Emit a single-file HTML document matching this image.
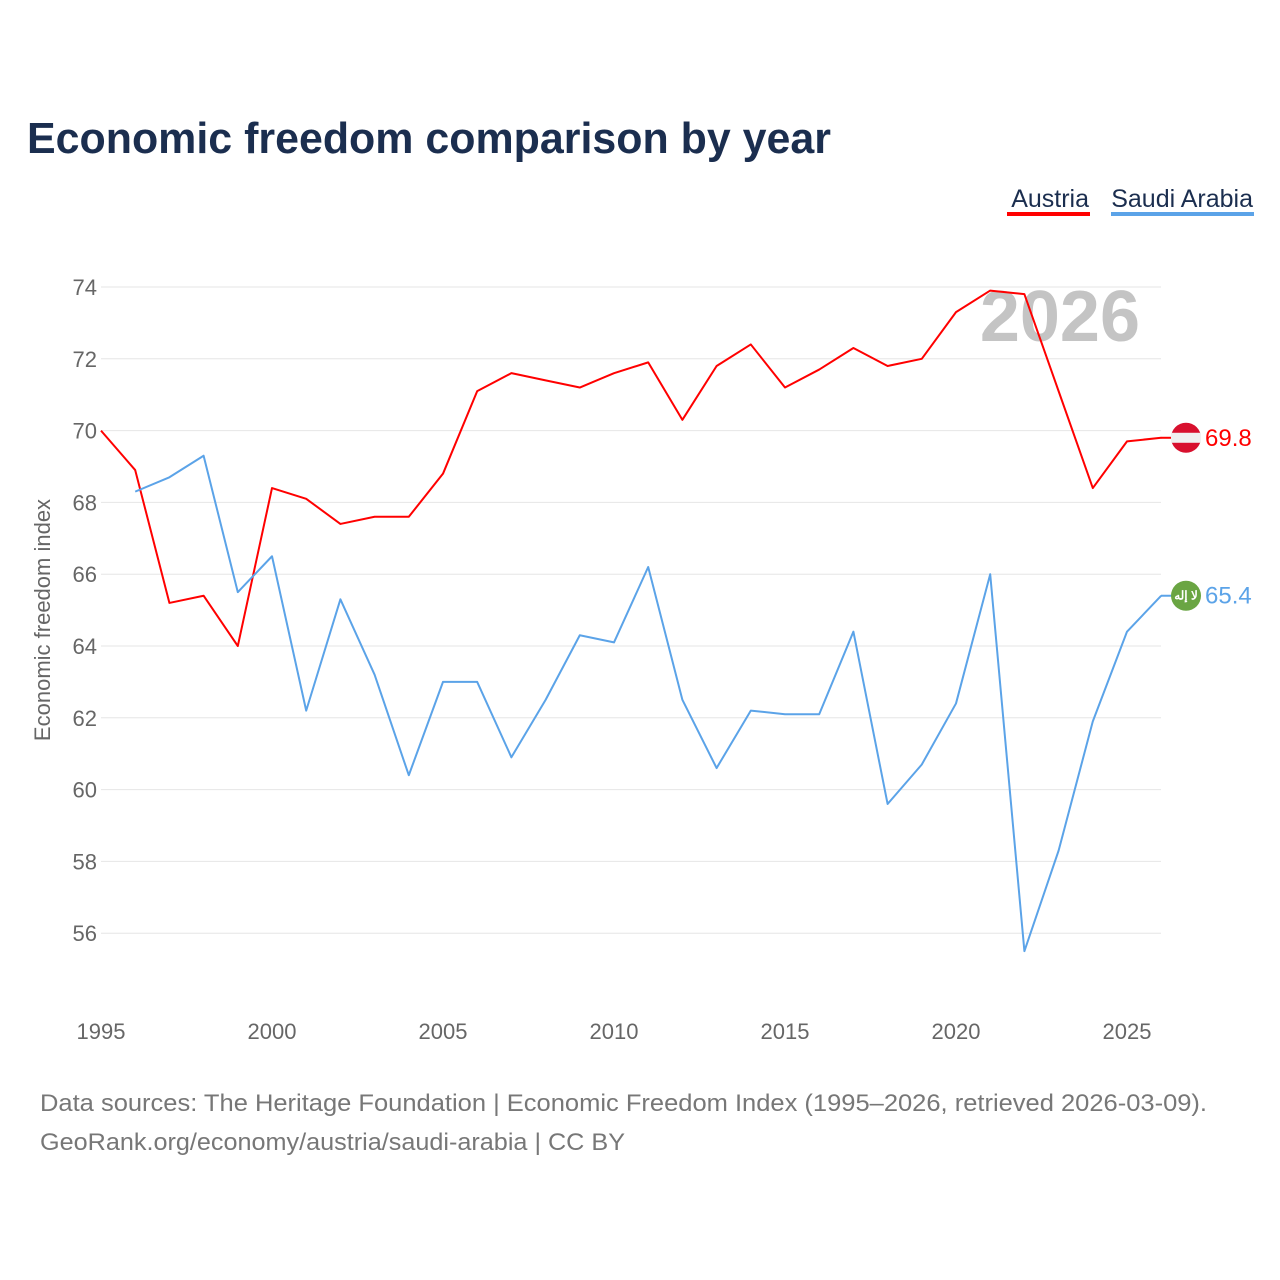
<!DOCTYPE html>
<html><head><meta charset="utf-8"><style>
body{margin:0;background:#fff;font-family:"Liberation Sans",sans-serif}
svg{display:block}
</style></head><body>
<svg id="chart" width="1280" height="1280">
<text x="27" y="153" font-size="44" font-weight="bold" fill="#1b2e4f" textLength="804" lengthAdjust="spacingAndGlyphs">Economic freedom comparison by year</text>
<g>
<text x="1089" y="207" font-size="25" fill="#1b2e4f" text-anchor="end">Austria</text>
<rect x="1007" y="212" width="83" height="4" fill="#ff0000"/>
<text x="1253" y="207" font-size="25" fill="#1b2e4f" text-anchor="end">Saudi Arabia</text>
<rect x="1111" y="212" width="143" height="4" fill="#5ba3e8"/>
</g>
<text x="1140" y="341" font-size="72" font-weight="bold" fill="#c4c4c4" text-anchor="end">2026</text>
<text transform="translate(50,620) rotate(-90)" font-size="22" fill="#666" text-anchor="middle">Economic freedom index</text>
<g id="grid"></g><g id="xt"></g><g id="lines"></g>
<text x="40" y="1111" font-size="24" fill="#777" textLength="1167" lengthAdjust="spacingAndGlyphs">Data sources: The Heritage Foundation | Economic Freedom Index (1995–2026, retrieved 2026-03-09).</text>
<text x="40" y="1150" font-size="24" fill="#777" textLength="585" lengthAdjust="spacingAndGlyphs">GeoRank.org/economy/austria/saudi-arabia | CC BY</text>
</svg>
<script>
const years=[1995,1996,1997,1998,1999,2000,2001,2002,2003,2004,2005,2006,2007,2008,2009,2010,2011,2012,2013,2014,2015,2016,2017,2018,2019,2020,2021,2022,2023,2024,2025,2026];
const austria=[70.0,68.9,65.2,65.4,64.0,68.4,68.1,67.4,67.6,67.6,68.8,71.1,71.6,71.4,71.2,71.6,71.9,70.3,71.8,72.4,71.2,71.7,72.3,71.8,72.0,73.3,73.9,73.8,71.1,68.4,69.7,69.8];
const saudi=[null,68.3,68.7,69.3,65.5,66.5,62.2,65.3,63.2,60.4,63.0,63.0,60.9,62.5,64.3,64.1,66.2,62.5,60.6,62.2,62.1,62.1,64.4,59.6,60.7,62.4,66.0,55.5,58.3,61.9,64.4,65.4];
const yTicks=[56,58,60,62,64,66,68,70,72,74];
const xTicks=[1995,2000,2005,2010,2015,2020,2025];
const NS="http://www.w3.org/2000/svg";
const X=y=>101+(y-1995)*34.2;
const Y=v=>287+(74-v)*35.9;
function mk(t,a,p){const e=document.createElementNS(NS,t);for(const k in a)e.setAttribute(k,a[k]);p.appendChild(e);return e;}
const g=document.getElementById('grid');
yTicks.forEach(v=>{
 const l=mk('line',{x1:101,x2:1161,y1:Y(v),y2:Y(v),stroke:'#e6e6e6','stroke-width':1},g);
 
 
 const t=mk('text',{x:97,y:Y(v)+8,'font-size':22,fill:'#666','text-anchor':'end'},g);t.textContent=v;
 
 
});
const xt=document.getElementById('xt');
xTicks.forEach(v=>{
 const t=mk('text',{x:X(v),y:1039,'font-size':22,fill:'#666','text-anchor':'middle'},xt);t.textContent=v;
 
 
});
const L=document.getElementById('lines');
function series(vals,color,name,flag){
 let d='';vals.forEach((v,i)=>{if(v==null)return;d+=(d?'L':'M')+X(years[i])+','+Y(v);});
 const p=mk('path',{d:d,fill:'none',stroke:color,'stroke-width':2,'stroke-linejoin':'round'},L);
 
 
 const last=vals[vals.length-1],cy=Y(last);
 mk('line',{x1:1161,x2:1175,y1:cy,y2:cy,stroke:color,'stroke-width':2},L);
 const fg=mk('g',{},L);
 
 
 if(flag==='at'){
  mk('circle',{cx:1186,cy:cy,r:15,fill:'#d8102e'},fg);
  mk('rect',{x:1171,y:cy-5,width:30,height:10,fill:'#f0f0f0'},fg);
 }else{
  mk('circle',{cx:1186,cy:cy,r:15,fill:'#6aa543'},fg);
  const ft=mk('text',{x:1186,y:cy+4,'font-size':12,fill:'#fff','text-anchor':'middle','font-weight':'bold'},fg);ft.textContent='لا إله';
 }
 const t=mk('text',{x:1205,y:cy+8,'font-size':24,fill:color},L);t.textContent=last.toFixed(1);
 
 
}
series(austria,'#ff0000','austria','at');
series(saudi,'#5ba3e8','saudi-arabia','sa');
</script>
</body></html>
